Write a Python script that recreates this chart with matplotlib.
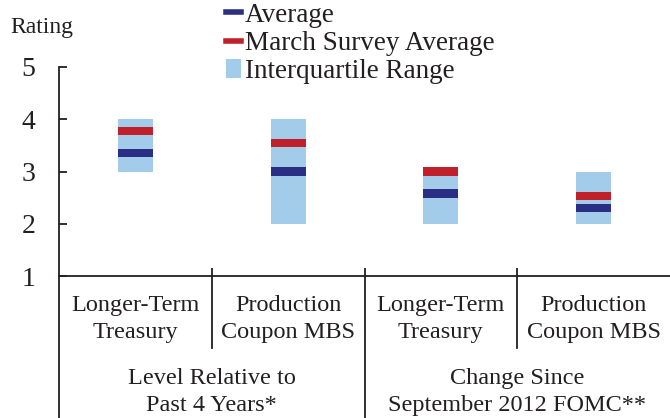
import matplotlib
matplotlib.use("Agg")
import matplotlib.pyplot as plt
from matplotlib.lines import Line2D
from matplotlib.patches import Patch

plt.rcParams['font.family'] = ['Liberation Serif', 'DejaVu Serif']

sub_labels = ["Longer-Term\nTreasury", "Production\nCoupon MBS",
              "Longer-Term\nTreasury", "Production\nCoupon MBS"]
group_labels = ["Level Relative to\nPast 4 Years*", "Change Since\nSeptember 2012 FOMC**"]
iqr_low = [3.0, 2.0, 2.0, 2.0]
iqr_high = [4.0, 4.0, 3.0, 3.0]
average = [3.35, 3.0, 2.58, 2.3]
march_avg = [3.78, 3.54, 3.0, 2.53]
yticks = [1, 2, 3, 4, 5]

C_IQR = "#a3cbea"
C_RED = "#c0202a"
C_BLUE = "#2a2e85"
C_TXT = "#231f20"

W, H = 670, 418
fig = plt.figure(figsize=(W / 100, H / 100), dpi=100)
ax_l, ax_r, ax_t, ax_b = 59, 670, 67, 276
ax = fig.add_axes([ax_l / W, (H - ax_b) / H, (ax_r - ax_l) / W, (ax_b - ax_t) / H])

x = [i + 0.5 for i in range(len(sub_labels))]
bw = 0.23
mh = 0.16
ax.bar(x, [h - l for h, l in zip(iqr_high, iqr_low)], bottom=iqr_low, width=bw,
       color=C_IQR, linewidth=0, zorder=2)
ax.bar(x, mh, bottom=[v - mh / 2 for v in march_avg], width=bw, color=C_RED, linewidth=0, zorder=3)
ax.bar(x, mh, bottom=[v - mh / 2 for v in average], width=bw, color=C_BLUE, linewidth=0, zorder=4)

ax.set_xlim(0, 4)
ax.set_ylim(1, 5)
ax.set_yticks(yticks)
ax.set_yticklabels([str(t) for t in yticks], fontsize=20, color=C_TXT)
ax.tick_params(axis='y', direction='in', length=6, width=1.3, pad=17, colors=C_TXT)
ax.set_xticks([1, 2, 3])
ax.set_xticklabels([])
ax.tick_params(axis='x', direction='in', length=6, width=1.3, colors=C_TXT)
for s in ['top', 'right']:
    ax.spines[s].set_visible(False)
for s in ['left', 'bottom']:
    ax.spines[s].set_linewidth(1.3)
    ax.spines[s].set_color(C_TXT)

plot_h = ax_b - ax_t
def fy(py):
    return -(py - ax_b) / plot_h

tr = ax.get_xaxis_transform()
bottom_f = fy(H + 2)
mid_f = fy(348)
for xv, yb in [(0, bottom_f), (1, mid_f), (2, bottom_f), (3, mid_f)]:
    ax.plot([xv, xv], [0, yb], color=C_TXT, lw=1.3, transform=tr, clip_on=False)

for xi, lab in zip(x, sub_labels):
    ax.text(xi, fy(319), lab, transform=tr, ha='center', va='center', fontsize=17.5,
            color=C_TXT, linespacing=1.42)
for gi, lab in enumerate(group_labels):
    ax.text(2 * gi + 1, fy(392), lab, transform=tr, ha='center', va='center', fontsize=17.5,
            color=C_TXT, linespacing=1.42)

fig.text(10 / W, 1 - 27 / H, "Rating", fontsize=17, color=C_TXT, ha='left', va='center')

handles = [Line2D([], [], color=C_BLUE, lw=4),
           Line2D([], [], color=C_RED, lw=4),
           Patch(facecolor=C_IQR, edgecolor='none')]
labels = ["Average", "March Survey Average", "Interquartile Range"]
leg = fig.legend(handles, labels, loc='upper left', bbox_to_anchor=(207 / W, 1 + 16 / H),
                 frameon=False, fontsize=19.5, handlelength=0.55, handletextpad=0.15,
                 labelspacing=0.12, borderpad=0.2)
for t in leg.get_texts():
    t.set_color(C_TXT)

fig.savefig("out.png", dpi=100)
